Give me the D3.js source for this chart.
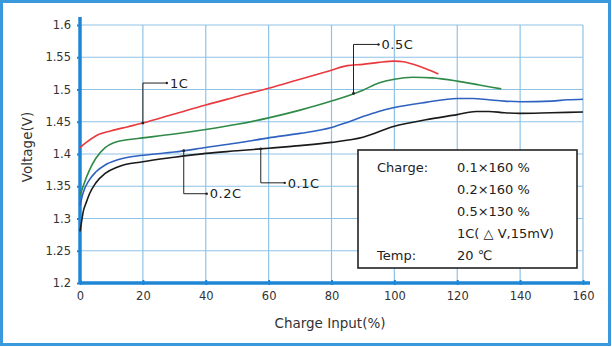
<!DOCTYPE html>
<html><head><meta charset="utf-8">
<script src="https://cdn.jsdelivr.net/npm/d3@7"></script>
<style>
html,body{margin:0;padding:0;background:#fff;}
svg{display:block;}
text{font-family:"DejaVu Sans",sans-serif;}
</style></head>
<body>
<svg id="c" width="612" height="347"></svg>
<script>
// ---- data ----
const xTicks = [0,20,40,60,80,100,120,140,160];
const yTicks = [1.2,1.25,1.3,1.35,1.4,1.45,1.5,1.55,1.6];
const yTickLabels = ["1.2","1.25","1.3","1.35","1.4","1.45","1.5","1.55","1.6"];

const c1X = [0,2,5,10,15,20,30,40,50,60,70,80,85,90,95,100,103,106,110,114];
const c1Y = [1.410,1.418,1.428,1.436,1.442,1.448,1.462,1.476,1.489,1.502,1.516,1.530,1.537,1.539,1.542,1.544,1.543,1.539,1.532,1.524];

const c05X = [0,1,3,5,8,11,15,20,30,40,50,60,70,80,90,95,100,106,112,120,127,134];
const c05Y = [1.335,1.350,1.375,1.393,1.410,1.418,1.422,1.425,1.431,1.438,1.446,1.456,1.468,1.482,1.499,1.510,1.516,1.519,1.518,1.513,1.507,1.501];

const c02X = [0,1,3,5,8,12,20,30,40,50,60,70,80,85,90,95,100,110,120,125,130,135,140,150,155,160];
const c02Y = [1.320,1.340,1.360,1.372,1.383,1.391,1.398,1.403,1.410,1.417,1.425,1.432,1.441,1.449,1.458,1.466,1.472,1.480,1.486,1.486,1.484,1.482,1.481,1.482,1.484,1.485];

const c01X = [0,0.5,1,2,3,5,8,12,20,30,40,50,60,70,80,90,100,110,120,126,130,135,140,150,160];
const c01Y = [1.280,1.295,1.310,1.325,1.338,1.355,1.370,1.380,1.388,1.395,1.401,1.405,1.409,1.413,1.418,1.426,1.443,1.453,1.461,1.466,1.466,1.464,1.463,1.464,1.465];

const seriesNames = ["1C","0.5C","0.2C","0.1C"];
const seriesColors = ["#e8393f","#2f8a48","#2f62c0","#1a1a1a"];

// annotations: [label, series index, x value of anchor]
const annoLabels = ["1C","0.5C","0.2C","0.1C"];
const annoAnchorX = [20,87,33,57.5];

const legendLeft = ["Charge:","","","","Temp:"];
const legendRight = ["0.1\u00d7160 %","0.2\u00d7160 %","0.5\u00d7130 %","1C( \u25b3 V,15mV)","20 \u2103"];

const xTitle = "Charge Input(%)";
const yTitle = "Voltage(V)";

// ---- drawing ----
const svg = d3.select("#c");
const blue = "#1f86d6";
const grid = "#8fc3e6";

svg.append("rect").attr("x",1.5).attr("y",1.5).attr("width",608).attr("height",343)
  .attr("fill","#fff").attr("stroke","#3a98dc").attr("stroke-width",3);

const x = d3.scaleLinear().domain([0,160]).range([80,583]);
const y = d3.scaleLinear().domain([1.2,1.6]).range([283,25]);

// grid
const g = svg.append("g");
g.selectAll("line.h").data(yTicks.slice(1)).join("line")
  .attr("x1",x(0)).attr("x2",x(160)).attr("y1",d=>y(d)).attr("y2",d=>y(d))
  .attr("stroke",grid).attr("stroke-width",1.2);
g.selectAll("line.v").data(xTicks.slice(1)).join("line")
  .attr("x1",d=>x(d)).attr("x2",d=>x(d)).attr("y1",y(1.6)).attr("y2",y(1.2))
  .attr("stroke",grid).attr("stroke-width",1.2);

// axes
const xAxis = d3.axisBottom(x).tickValues(xTicks).tickSize(3).tickPadding(6);
const gx = svg.append("g").attr("transform",`translate(0,${y(1.2)})`).call(xAxis);
gx.select(".domain").attr("d",`M${x(0)},0H${x(160)+7}`).attr("stroke",blue).attr("stroke-width",3.5);
gx.selectAll(".tick line").attr("stroke",blue).attr("stroke-width",2).attr("y1",-3).attr("y2",2);
gx.selectAll(".tick text").attr("font-size",11.5).attr("fill","#333").attr("font-family","'DejaVu Sans',sans-serif");

const yAxis = d3.axisLeft(y).tickValues(yTicks).tickFormat((d,i)=>yTickLabels[i]).tickSize(3).tickPadding(6);
const gy = svg.append("g").attr("transform",`translate(${x(0)},0)`).call(yAxis);
gy.select(".domain").attr("d",`M0,${y(1.6)-8}V${y(1.2)}`).attr("stroke",blue).attr("stroke-width",3.5);
gy.selectAll(".tick line").attr("stroke",blue).attr("stroke-width",2);
gy.selectAll(".tick text").attr("font-size",11.5).attr("fill","#333").attr("font-family","'DejaVu Sans',sans-serif");

svg.append("text").attr("x",330).attr("y",328).attr("text-anchor","middle")
  .attr("font-size",13.5).attr("fill","#333").text(xTitle);
svg.append("text").attr("transform",`translate(32,147) rotate(-90)`).attr("text-anchor","middle")
  .attr("font-size",13.5).attr("fill","#333").text(yTitle);

// curves
const allX = [c1X,c05X,c02X,c01X];
const allY = [c1Y,c05Y,c02Y,c01Y];
const line = d3.line().x(d=>x(d[0])).y(d=>y(d[1])).curve(d3.curveMonotoneX);
allX.forEach((xs,i)=>{
  const pts = xs.map((v,j)=>[v,allY[i][j]]);
  svg.append("path").attr("d",line(pts)).attr("fill","none")
    .attr("stroke",seriesColors[i]).attr("stroke-width",1.6);
});

// annotations
function interp(i,xv){
  const xs = allX[i], ys = allY[i];
  return d3.scaleLinear().domain(xs).range(ys)(xv);
}
const annoDy = [-40,-49,43,34];   // offset of label row from anchor point
const annoDx = [24,25,23,24];
annoLabels.forEach((lab,k)=>{
  const idx = k;
  const ax = x(annoAnchorX[k]), ay = y(interp(idx,annoAnchorX[k]));
  const ty = ay + annoDy[k];
  svg.append("path").attr("d",`M${ax},${ay}V${ty}H${ax+annoDx[k]}`)
    .attr("fill","none").attr("stroke","#222").attr("stroke-width",1);
  svg.append("circle").attr("cx",ax).attr("cy",ay).attr("r",1.4).attr("fill","#222");
  svg.append("circle").attr("cx",ax+annoDx[k]).attr("cy",ty).attr("r",1.2).attr("fill","#222");
  svg.append("text").attr("x",ax+annoDx[k]+3).attr("y",ty).attr("dy","0.36em")
    .attr("font-size",13).attr("fill","#222").attr("letter-spacing",0.5).text(lab);
});

// legend box
const lg = svg.append("g");
lg.append("rect").attr("x",358).attr("y",150).attr("width",219).attr("height",118)
  .attr("fill","#fff").attr("stroke","#222").attr("stroke-width",1.6);
legendLeft.forEach((t,i)=>{
  lg.append("text").attr("x",377).attr("y",167+i*22.2).attr("dy","0.36em")
    .attr("font-size",13).attr("fill","#222").text(t);
});
legendRight.forEach((t,i)=>{
  lg.append("text").attr("x",457).attr("y",167+i*22.2).attr("dy","0.36em")
    .attr("font-size",13).attr("fill","#222").text(t);
});
</script>
</body></html>
